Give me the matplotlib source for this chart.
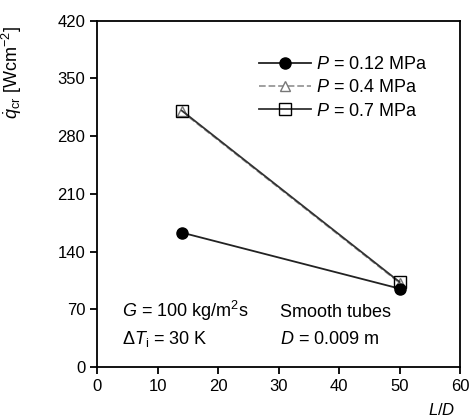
import matplotlib.pyplot as plt

plt.rcParams['font.family'] = ['Liberation Sans', 'DejaVu Sans']
plt.rcParams['mathtext.fontset'] = 'custom'
plt.rcParams['mathtext.rm'] = 'Liberation Sans'
plt.rcParams['mathtext.it'] = 'Liberation Sans:italic'

# data
ld = [14, 50]
q_012 = [163, 95]
q_04 = [310, 102]
q_07 = [311, 103]

fig = plt.figure(figsize=(4.71, 4.16), dpi=100)
ax = fig.add_axes([0.206, 0.118, 0.771, 0.832])

ax.plot(ld, q_012, color='#222222', lw=1.3, marker='o', ms=8, mfc='black', mec='black',
        label='$P$ = 0.12 MPa', zorder=3)
ax.plot(ld, q_04, color='#999999', lw=1.3, ls='--', marker='^', ms=7, mfc='white', mec='#777777',
        label='$P$ = 0.4 MPa', zorder=2)
ax.plot(ld, q_07, color='#333333', lw=1.3, marker='s', ms=8, mfc='none', mec='black',
        label='$P$ = 0.7 MPa', zorder=4)

ax.set_xlim(0, 60)
ax.set_ylim(0, 420)
ax.set_xticks(range(0, 61, 10))
ax.set_yticks(range(0, 421, 70))
ax.tick_params(axis='both', labelsize=12, direction='out', length=5, width=1.3)
for s in ax.spines.values():
    s.set_linewidth(1.3)

ax.set_ylabel(r'$\dot{q}_{\rm cr}$ [Wcm$^{-2}$]', fontsize=13)
ax.yaxis.set_label_coords(-0.2, 0.85)
ax.set_xlabel('$L/D$', fontsize=12)
ax.xaxis.set_label_coords(0.95, -0.1)

ax.legend(loc='upper left', bbox_to_anchor=(0.4, 0.945), frameon=False, fontsize=13,
          handlelength=2.9, handletextpad=0.3, labelspacing=0.35)

ax.text(0.07, 0.145, '$G$ = 100 kg/m$^2$s', transform=ax.transAxes, fontsize=13)
ax.text(0.07, 0.065, r'$\Delta T_{\rm i}$ = 30 K', transform=ax.transAxes, fontsize=13)
ax.text(0.505, 0.145, 'Smooth tubes', transform=ax.transAxes, fontsize=13)
ax.text(0.505, 0.065, '$D$ = 0.009 m', transform=ax.transAxes, fontsize=13)

fig.savefig('out.png', dpi=100)
